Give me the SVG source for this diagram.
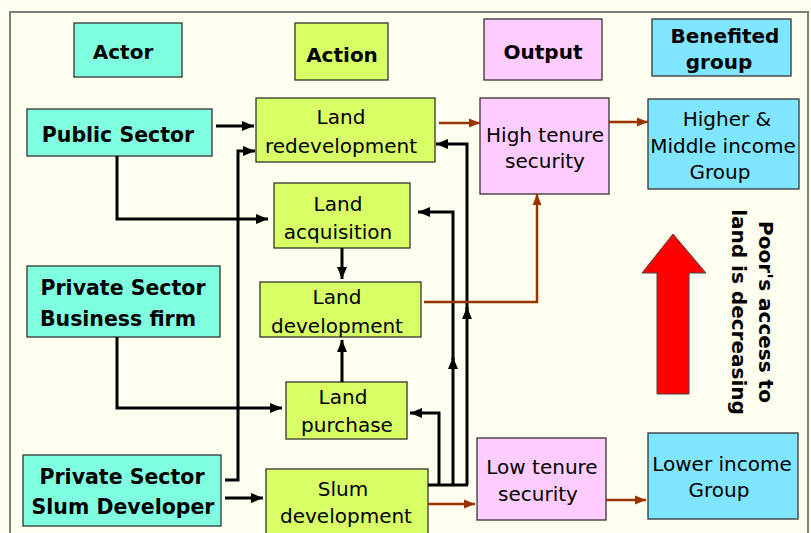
<svg xmlns="http://www.w3.org/2000/svg" width="811" height="533" viewBox="0 0 811 533">
  <style>
    .box { stroke: #333333; stroke-width: 1.3; }
    .actor { fill: #80FFE0; }
    .action { fill: #D9FF66; }
    .output { fill: #FFCCFF; }
    .group { fill: #80E6FF; }
    text { font-family: "DejaVu Sans", Verdana, sans-serif; fill: #000000; text-anchor: middle; }
    .t { font-size: 20px; }
    .hb { font-size: 20px; font-weight: bold; }
    .ab { font-size: 20.5px; font-weight: bold; }
    .blk { fill: none; stroke: #000000; stroke-width: 3; marker-end: url(#ah); }
    .brn { fill: none; stroke: #993300; stroke-width: 2.5; marker-end: url(#ahb); }
  </style>
  <defs>
    <marker id="ah" markerUnits="userSpaceOnUse" markerWidth="14" markerHeight="12" refX="12" refY="6" orient="auto">
      <path d="M0,1 L12,6 L0,11 Z" fill="#000000"/>
    </marker>
    <marker id="ahb" markerUnits="userSpaceOnUse" markerWidth="12" markerHeight="10" refX="11" refY="5" orient="auto">
      <path d="M0,0.5 L11,5 L0,9.5 Z" fill="#993300"/>
    </marker>
  </defs>

  <!-- page and frame -->
  <rect x="0" y="0" width="811" height="533" fill="#FFFFF0"/>
  <rect x="10" y="12" width="798" height="530" fill="#FFFFF0" stroke="#7F7F7F" stroke-width="2"/>

  <!-- column headers -->
  <g id="hdr-actor">
    <rect class="box actor" x="74" y="23" width="108" height="54"/>
    <text class="hb" x="123" y="59">Actor</text>
  </g>
  <g id="hdr-action">
    <rect class="box action" x="295" y="23" width="93" height="57"/>
    <text class="hb" x="342" y="62">Action</text>
  </g>
  <g id="hdr-output">
    <rect class="box output" x="484" y="19" width="118" height="61"/>
    <text class="hb" x="543" y="59">Output</text>
  </g>
  <g id="hdr-group">
    <rect class="box group" x="652" y="19" width="139" height="57"/>
    <text class="hb" x="725" y="43">Benefited</text>
    <text class="hb" x="719" y="69">group</text>
  </g>

  <!-- actors -->
  <g id="public-sector">
    <rect class="box actor" x="27" y="109" width="185" height="47"/>
    <text class="ab" x="118" y="142">Public Sector</text>
  </g>
  <g id="business-firm">
    <rect class="box actor" x="27" y="266" width="193" height="71"/>
    <text class="ab" x="123" y="295">Private Sector</text>
    <text class="ab" x="118" y="326">Business firm</text>
  </g>
  <g id="slum-developer">
    <rect class="box actor" x="23" y="455" width="198" height="71"/>
    <text class="ab" x="122" y="484">Private Sector</text>
    <text class="ab" x="123" y="514">Slum Developer</text>
  </g>

  <!-- actions -->
  <g id="land-redevelopment">
    <rect class="box action" x="256" y="98" width="179" height="64"/>
    <text class="t" x="341" y="124">Land</text>
    <text class="t" x="341" y="153">redevelopment</text>
  </g>
  <g id="land-acquisition">
    <rect class="box action" x="274" y="183" width="136" height="65"/>
    <text class="t" x="338" y="211">Land</text>
    <text class="t" x="338" y="239">acquisition</text>
  </g>
  <g id="land-development">
    <rect class="box action" x="260" y="282" width="161" height="55"/>
    <text class="t" x="337" y="304">Land</text>
    <text class="t" x="337" y="333">development</text>
  </g>
  <g id="land-purchase">
    <rect class="box action" x="286" y="382" width="121" height="57"/>
    <text class="t" x="343" y="404">Land</text>
    <text class="t" x="347" y="432">purchase</text>
  </g>
  <g id="slum-development">
    <rect class="box action" x="266" y="469" width="162" height="70"/>
    <text class="t" x="343" y="496">Slum</text>
    <text class="t" x="346" y="523">development</text>
  </g>

  <!-- outputs -->
  <g id="high-tenure">
    <rect class="box output" x="480" y="98" width="129" height="96"/>
    <text class="t" x="545" y="142">High tenure</text>
    <text class="t" x="545" y="168">security</text>
  </g>
  <g id="low-tenure">
    <rect class="box output" x="477" y="438" width="129" height="82"/>
    <text class="t" x="542" y="474">Low tenure</text>
    <text class="t" x="538" y="501">security</text>
  </g>

  <!-- benefited groups -->
  <g id="higher-middle">
    <rect class="box group" x="648" y="99" width="151" height="90"/>
    <text class="t" x="727" y="126">Higher &amp;</text>
    <text class="t" x="723" y="153">Middle income</text>
    <text class="t" x="720" y="179">Group</text>
  </g>
  <g id="lower-income">
    <rect class="box group" x="648" y="433" width="150" height="86"/>
    <text class="t" x="722" y="471">Lower income</text>
    <text class="t" x="719" y="497">Group</text>
  </g>

  <!-- trend indicator -->
  <g id="trend">
    <polygon points="673,234 706,273 689,273 689,394 657,394 657,273 642,273" fill="#FF0000" stroke="#444444" stroke-width="1"/>
    <g transform="translate(759,312) rotate(90)">
      <text class="hb" x="0" y="0">Poor's access to</text>
    </g>
    <g transform="translate(732,312) rotate(90)">
      <text class="hb" x="0" y="0">land is decreasing</text>
    </g>
  </g>

  <!-- connectors -->
  <g id="connectors">
    <path class="blk" d="M216,126 H254"/>
    <path class="blk" d="M117,156 V219 H268"/>
    <path class="blk" d="M225,480 H238 V151 H255"/>
    <path class="blk" d="M117,337 V408 H282"/>
    <path class="blk" d="M225,498 H263"/>
    <path class="blk" d="M342,248 V279"/>
    <path class="blk" d="M342,382 V340"/>
    <path d="M428,485 H468" fill="none" stroke="#000000" stroke-width="3"/>
    <path class="blk" d="M439,485 V413 H410"/>
    <path class="blk" d="M453,485 V357"/>
    <path class="blk" d="M453,360 V212 H418"/>
    <path class="blk" d="M467,485 V307"/>
    <path class="blk" d="M467,310 V144 H436"/>

    <path class="brn" d="M439,123 H480"/>
    <path class="brn" d="M609,122 H648"/>
    <path class="brn" d="M424,302 H537 V194"/>
    <path class="brn" d="M428,504 H475"/>
    <path class="brn" d="M606,500 H646"/>
  </g>
</svg>
